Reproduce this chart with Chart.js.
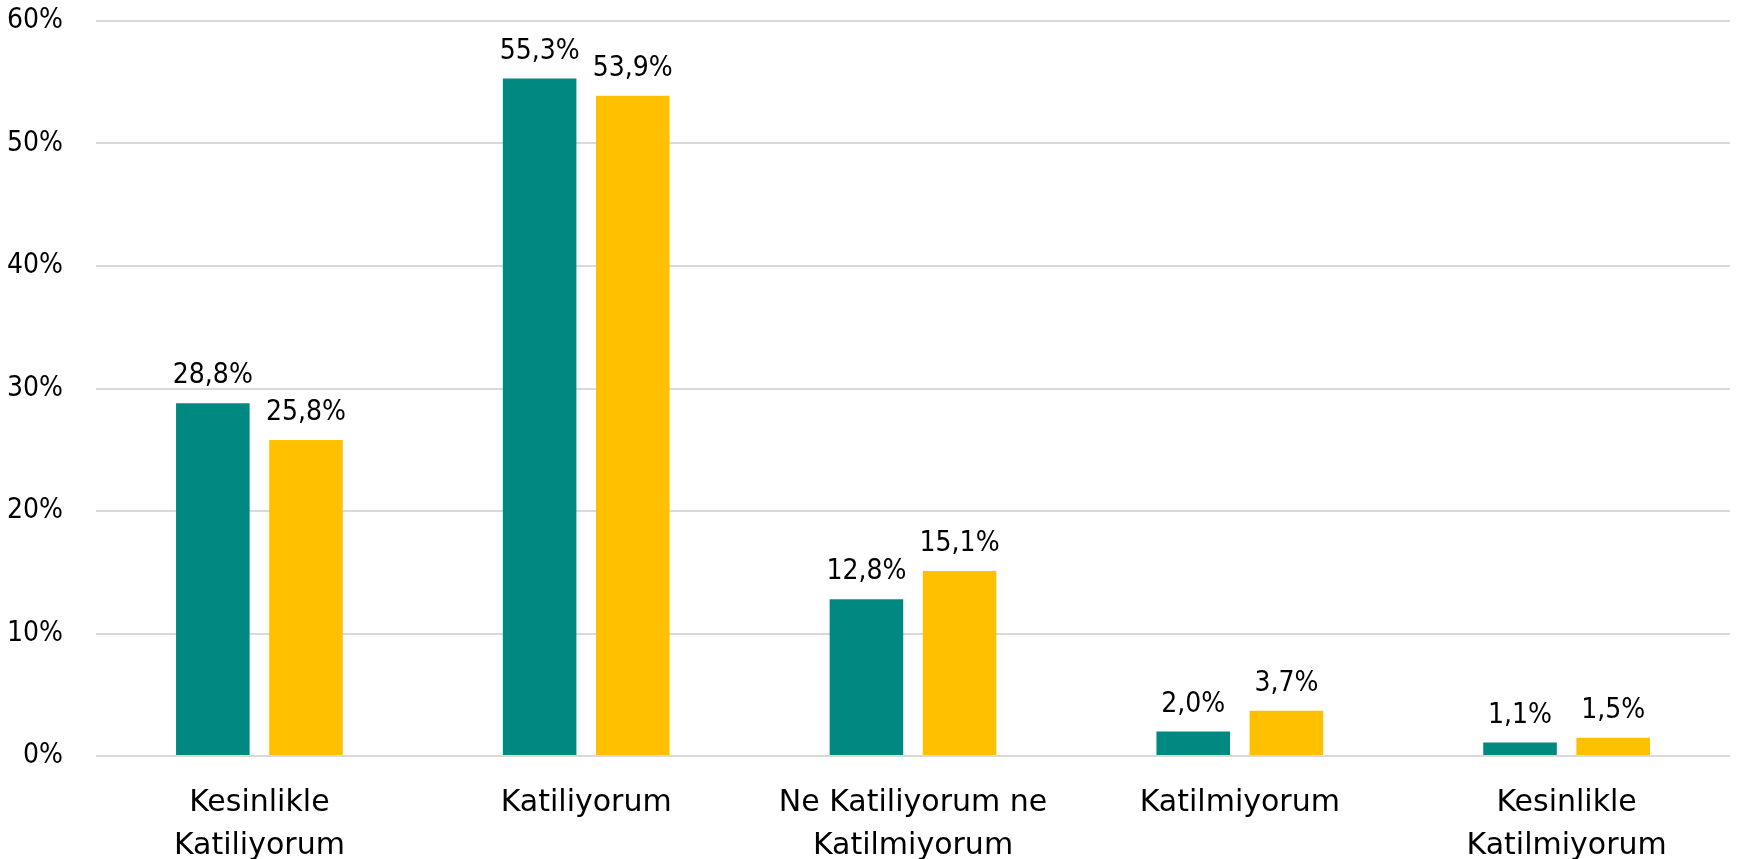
<!DOCTYPE html>
<html>
<head>
<meta charset="utf-8">
<script src="https://cdn.jsdelivr.net/npm/chart.js@4/dist/chart.umd.min.js"></script>
<style>
  html, body { margin: 0; padding: 0; background: #fff; }
  #wrap { width: 1740px; height: 859px; }
</style>
</head>
<body>
<div id="wrap"><canvas id="survey-chart"></canvas></div>
<script>
const categories = [
    ['Kesinlikle', 'Katiliyorum'],
    'Katiliyorum',
    ['Ne Katiliyorum ne', 'Katilmiyorum'],
    'Katilmiyorum',
    ['Kesinlikle', 'Katilmiyorum']
];
const seriesA = [28.8, 55.3, 12.8, 2.0, 1.1];
const seriesB = [25.8, 53.9, 15.1, 3.7, 1.5];
const yTicks = [0, 10, 20, 30, 40, 50, 60];

const narrowFont = "'DejaVu Sans Condensed', 'DejaVu Sans', sans-serif";
const wideFont = "'DejaVu Sans', sans-serif";

// simple value labels above each bar
const barLabels = {
    id: 'barLabels',
    afterDatasetsDraw(chart) {
        const ctx = chart.ctx;
        ctx.save();
        ctx.font = '28px ' + narrowFont;
        ctx.fillStyle = '#000';
        ctx.textAlign = 'center';
        ctx.textBaseline = 'alphabetic';
        chart.data.datasets.forEach((ds, i) => {
            chart.getDatasetMeta(i).data.forEach((bar, j) => {
                const txt = ds.data[j].toFixed(1).replace('.', ',') + '%';
                ctx.fillText(txt, bar.x, bar.y - 20);
            });
        });
        ctx.restore();
    }
};

function createChart() {
    const ctx = document.getElementById('survey-chart');
    Chart.defaults.font.family = narrowFont;
    Chart.defaults.color = '#000';
    new Chart(ctx, {
        type: 'bar',
        data: {
            labels: categories,
            datasets: [{
                label: 'A',
                data: seriesA,
                backgroundColor: '#008980',
                categoryPercentage: 0.57,
                barPercentage: 0.79
            }, {
                label: 'B',
                data: seriesB,
                backgroundColor: '#FFC000',
                categoryPercentage: 0.57,
                barPercentage: 0.79
            }]
        },
        options: {
            responsive: true,
            maintainAspectRatio: false,
            animation: false,
            layout: { padding: { top: 0, right: 10, left: 0, bottom: 0 } },
            plugins: {
                legend: { display: false },
                tooltip: { enabled: false }
            },
            scales: {
                x: {
                    grid: { display: false, drawTicks: false },
                    border: { display: false },
                    ticks: {
                        font: { size: 30, lineHeight: 1.433, family: wideFont },
                        padding: 26,
                        maxRotation: 0,
                        autoSkip: false
                    },
                    afterFit: (scale) => { scale.height = 103; }
                },
                y: {
                    min: 0,
                    max: 60,
                    afterBuildTicks: (scale) => { scale.ticks = yTicks.map(v => ({ value: v })); },
                    grid: { color: '#d9d9d9', lineWidth: 2, drawTicks: false },
                    border: { display: false },
                    ticks: {
                        font: { size: 28 },
                        padding: 33,
                        callback: (v) => v + '%'
                    },
                    afterFit: (scale) => {
                        scale.width = 96;
                        scale.paddingTop = 21;
                        scale.paddingBottom = 0;
                    }
                }
            }
        },
        plugins: [barLabels]
    });
}
createChart();
</script>
</body>
</html>
